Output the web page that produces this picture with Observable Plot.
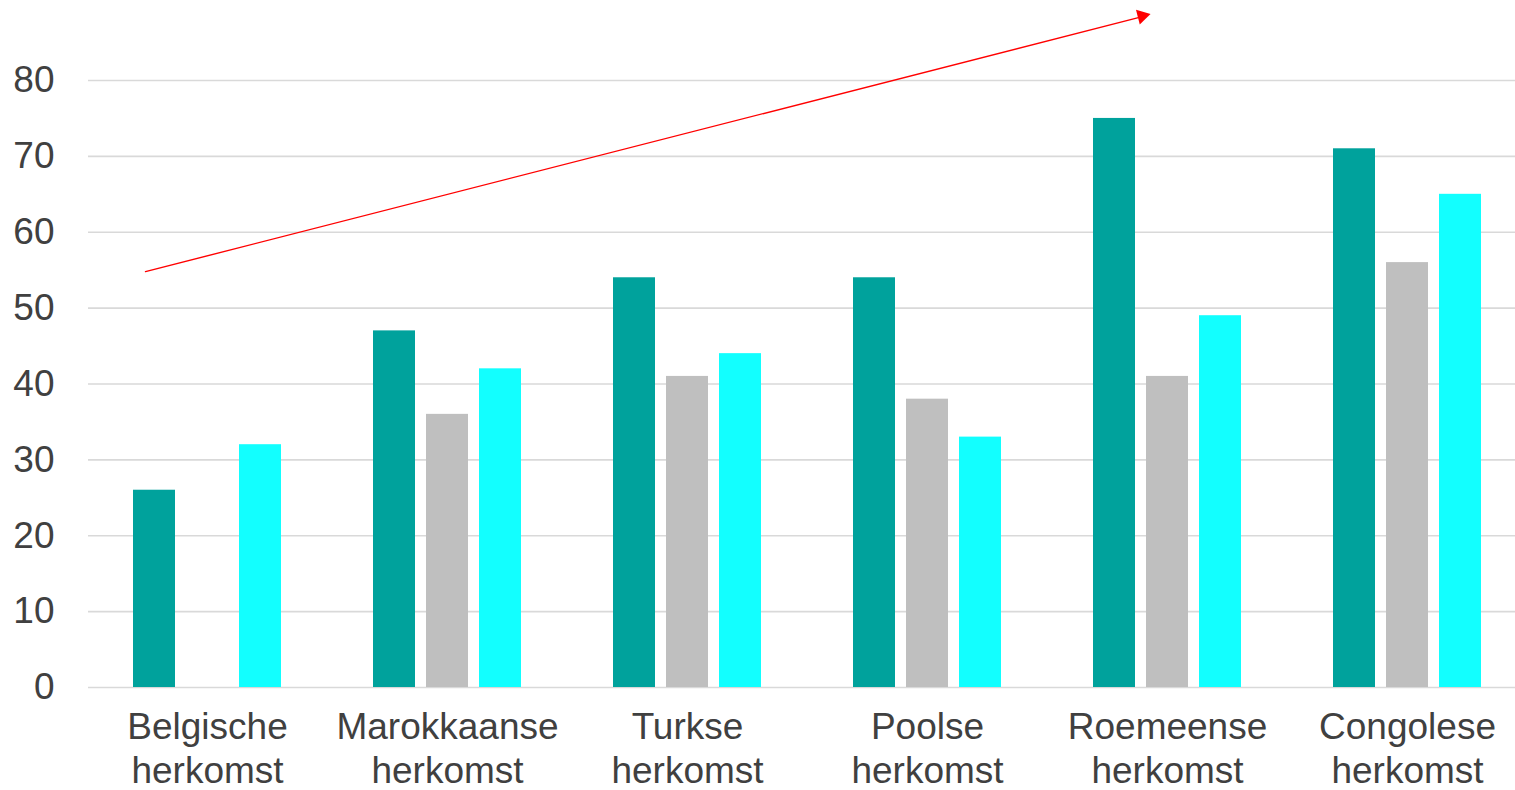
<!DOCTYPE html>
<html>
<head>
<meta charset="utf-8">
<script src="https://cdn.jsdelivr.net/npm/d3@7"></script>
<script src="https://cdn.jsdelivr.net/npm/@observablehq/plot@0.6"></script>
<style>
  html, body { margin: 0; padding: 0; background: #fff; overflow: hidden; }
  #chart svg { display: block; }
</style>
</head>
<body>
<div id="chart"></div>
<script>
// Categories (x groups)
const categories = ["Belgische herkomst", "Marokkaanse herkomst", "Turkse herkomst", "Poolse herkomst", "Roemeense herkomst", "Congolese herkomst"];
// Three series (no legend in the original)
const series1 = [26, 47, 54, 54, 75, 71];          // teal
const series2 = [null, 36, 41, 38, 41, 56];        // grey (missing for Belgische)
const series3 = [32, 42, 44, 33, 49, 65];          // cyan
const yTicks = [0, 10, 20, 30, 40, 50, 60, 70, 80];
// Trend arrow annotation (category, value) at start and end
const arrowStart = ["Belgische herkomst", 56.9];
const arrowEnd = ["Roemeense herkomst", 89.27];

const toRows = (vals) => categories.map((c, i) => ({cat: c, value: vals[i]})).filter(d => d.value != null);

const font = "Liberation Sans, Arial, sans-serif";

const chart = Plot.plot({
  width: 1515,
  height: 790,
  marginLeft: 88,
  marginRight: 0,
  marginTop: 80,
  marginBottom: 103,
  style: {fontFamily: font, fontSize: "37px", color: "#404040", background: "#fff"},
  x: {domain: categories, range: [87, 1527], padding: 0, label: null},
  y: {domain: [0, 80], label: null},
  marks: [
    Plot.ruleY(yTicks, {stroke: "#D9D9D9", strokeWidth: 1.6}),
    Plot.barY(toRows(series1), {x: "cat", y: "value", fill: "#00A29C", insetLeft: 46, insetRight: 152}),
    Plot.barY(toRows(series2), {x: "cat", y: "value", fill: "#BFBFBF", insetLeft: 99, insetRight: 99}),
    Plot.barY(toRows(series3), {x: "cat", y: "value", fill: "#12FFFF", insetLeft: 152, insetRight: 46}),
    Plot.axisY({ticks: yTicks, tickSize: 0, tickPadding: 34, fontSize: 37, fill: "#404040", label: null}),
    Plot.axisX({tickSize: 0, tickPadding: 21, fontSize: 37, fill: "#404040", lineHeight: 1.17,
      tickFormat: (d) => d.replace(" ", "\n"), label: null}),
    Plot.arrow([{x1: arrowStart[0], y1: arrowStart[1], x2: arrowEnd[0], y2: arrowEnd[1]}], {
      x1: "x1", y1: "y1", x2: "x2", y2: "y2",
      stroke: "#FF0000", strokeWidth: 1.4, headLength: 0,
      insetStart: -64, insetEnd: 24
    }),
    Plot.dot([{x: arrowEnd[0], y: 88.49}], {
      x: "x", y: "y", symbol: "triangle", r: 5.6, fill: "#FF0000", stroke: "none",
      rotate: 75.7, dx: -25.4
    })
  ]
});
document.getElementById("chart").append(chart);
</script>
</body>
</html>
